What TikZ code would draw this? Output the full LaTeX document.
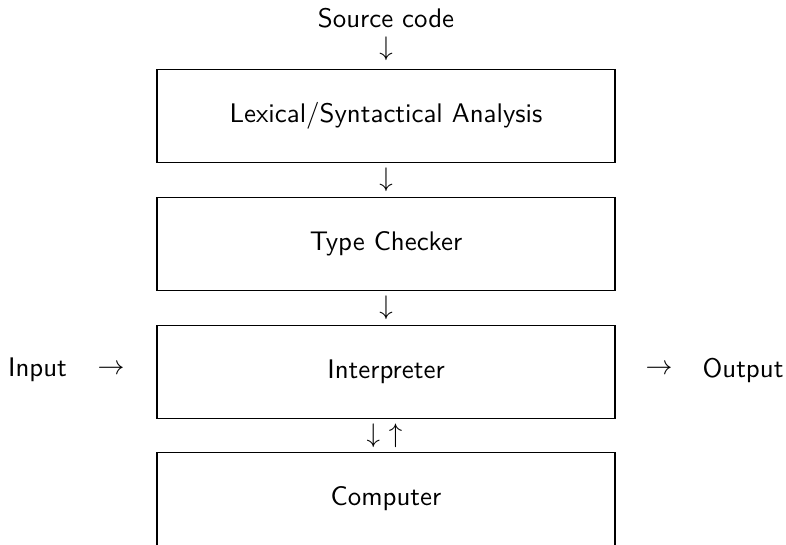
\documentclass[tikz,border=0pt]{standalone}
\usetikzlibrary{calc}
\renewcommand{\familydefault}{\sfdefault}
\begin{document}
\begin{tikzpicture}[x=0.372pt,y=-0.372pt,
  stage/.style={draw,line width=0.4pt,minimum width=458*0.372pt,minimum height=93*0.372pt,inner sep=0pt,font=\sffamily},
  lbl/.style={inner sep=0pt,font=\sffamily},
  glyph/.style={inner sep=0pt}]
  \useasboundingbox (0,0) rectangle (786,544);
  % processing stages
  \node[stage] (lex) at (386,116) {Lexical/Syntactical Analysis};
  \node[stage] (tc)  at (386,244) {Type Checker};
  \node[stage] (int) at (386,372) {Interpreter};
  \node[stage] (cmp) at (386,499) {Computer};
  % outer labels
  \node[lbl] (src) at (386,18) {Source code};
  \node[lbl] (in)  at (37.5,370) {Input};
  \node[lbl] (out) at (743,370) {Output};
  % flow arrows set as math glyphs
  \node[glyph] (a0) at ($(src.south)!0.5!(lex.north)$) {$\downarrow$};
  \node[glyph] (a1) at ($(lex.south)!0.5!(tc.north)$) {$\downarrow$};
  \node[glyph] (a2) at ($(tc.south)!0.5!(int.north)$) {$\downarrow$};
  \node[glyph] (a3) at ($(int.south)!0.5!(cmp.north)+(-1.5,0)$) {$\downarrow$ $\uparrow$};
  \node[glyph] (a4) at (111,370) {$\rightarrow$};
  \node[glyph] (a5) at (659,370) {$\rightarrow$};
\end{tikzpicture}
\end{document}
